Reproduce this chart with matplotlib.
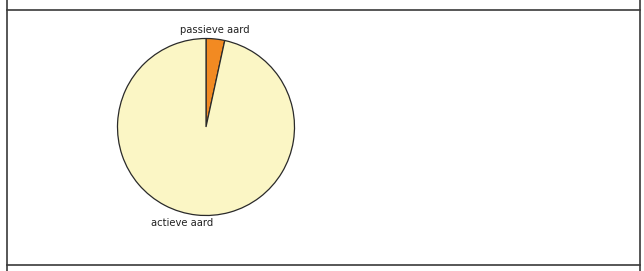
import matplotlib
matplotlib.use("Agg")
import matplotlib.pyplot as plt
from matplotlib.lines import Line2D

labels = ["passieve aard", "actieve aard"]
values = [3.4, 96.6]
colors = ["#F28A22", "#FBF6C5"]

W, H = 644, 271
fig = plt.figure(figsize=(W / 100, H / 100), dpi=100)
fig.patch.set_facecolor("white")

# table-cell borders
def fx(px):
    return px / W

def fy(py):
    return 1 - py / H

for x in (6.5, 640):
    fig.add_artist(Line2D([fx(x), fx(x)], [0, 1], color="#3a3a3a", lw=1.2))
for y in (9.5, 265):
    fig.add_artist(Line2D([fx(6.5), fx(640)], [fy(y), fy(y)], color="#3a3a3a", lw=1.2))

cx, cy, r = 206, 127, 88.5
ax = fig.add_axes([fx(cx - r), fy(cy + r), 2 * r / W, 2 * r / H])
wedges, texts = ax.pie(values, labels=labels, colors=colors, startangle=90,
                       counterclock=False, radius=1,
                       wedgeprops=dict(edgecolor="#2a2a2a", linewidth=0.9),
                       textprops=dict(fontsize=7.2, color="#222222"))
ax.set_xlim(-1, 1)
ax.set_ylim(-1, 1)
ax.set_aspect("equal")
ax.axis("off")

label_pos = {"passieve aard": (0.10, 1.10), "actieve aard": (-0.27, -1.08)}
for t in texts:
    x, y = label_pos[t.get_text()]
    t.set_position((x, y))
    t.set_ha("center")
    t.set_va("center")

fig.savefig("out.png", dpi=100)
